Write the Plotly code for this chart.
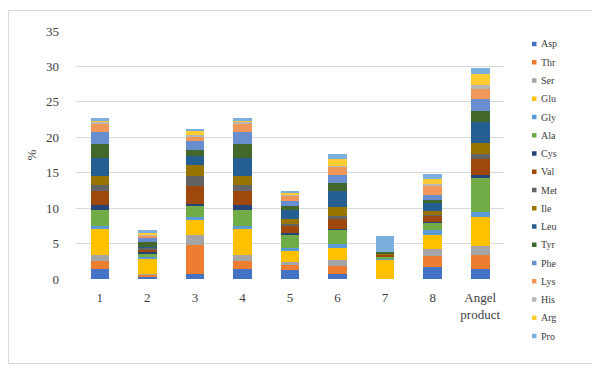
import plotly.graph_objects as go

categories = ["1", "2", "3", "4", "5", "6", "7", "8", "Angel<br>product"]

amino_acids = ["Asp", "Thr", "Ser", "Glu", "Gly", "Ala", "Cys", "Val", "Met",
               "Ile", "Leu", "Tyr", "Phe", "Lys", "His", "Arg", "Pro"]

asp = [1.37, 0.24, 0.70, 1.37, 1.27, 0.70, 0.00, 1.69, 1.46]
thr = [1.13, 0.33, 4.09, 1.13, 0.66, 1.13, 0.00, 1.55, 1.88]
ser = [0.89, 0.19, 1.41, 0.89, 0.52, 0.85, 0.00, 0.99, 1.27]
glu = [3.67, 2.10, 2.12, 3.67, 1.55, 1.74, 2.78, 1.98, 4.14]
gly = [0.47, 0.19, 0.38, 0.47, 0.38, 0.52, 0.10, 0.66, 0.75]
ala = [2.21, 0.60, 1.69, 2.21, 1.93, 1.98, 0.30, 1.08, 4.89]
cys = [0.75, 0.19, 0.19, 0.75, 0.14, 0.14, 0.00, 0.14, 0.28]
val = [1.98, 0.38, 2.59, 1.98, 1.13, 1.41, 0.25, 0.85, 2.31]
met = [0.80, 0.19, 1.36, 0.80, 0.14, 0.42, 0.05, 0.10, 0.61]
ile = [1.27, 0.05, 1.50, 1.27, 0.70, 1.27, 0.10, 0.61, 1.60]
leu = [2.59, 0.10, 1.36, 2.59, 1.36, 2.21, 0.05, 1.03, 2.96]
tyr = [1.88, 0.60, 0.75, 1.88, 0.56, 1.13, 0.15, 0.52, 1.55]
phe = [1.69, 0.60, 1.36, 1.69, 0.61, 1.18, 0.00, 0.61, 1.74]
lys = [1.27, 0.42, 0.66, 1.27, 0.85, 1.13, 0.00, 1.27, 1.36]
his = [0.19, 0.14, 0.19, 0.19, 0.14, 0.14, 0.00, 0.33, 0.52]
arg = [0.19, 0.19, 0.47, 0.19, 0.19, 0.94, 0.00, 0.70, 1.60]
pro = [0.33, 0.47, 0.38, 0.33, 0.33, 0.70, 2.35, 0.70, 0.80]

series = [asp, thr, ser, glu, gly, ala, cys, val, met,
          ile, leu, tyr, phe, lys, his, arg, pro]

colors = ["#4472C4", "#ED7D31", "#A5A5A5", "#FFC000", "#5B9BD5", "#70AD47",
          "#264478", "#9E480E", "#636363", "#997300", "#255E91", "#43682B",
          "#698ED0", "#F1975A", "#B7B7B7", "#FFCD33", "#7CAFDD"]

y_ticks = [0, 5, 10, 15, 20, 25, 30, 35]

FONT = "Liberation Serif, Times New Roman, serif"
TXT = "#404040"

fig = go.Figure()
for name, vals, col in zip(amino_acids, series, colors):
    fig.add_trace(go.Bar(x=categories, y=vals, name=name,
                         marker=dict(color=col, line=dict(width=0))))

# The page body adds an 8px margin, so the figure is laid out 8px up/left.
OFF = 8
FW, FH = 600 - OFF, 368 - OFF
# plot area in page pixels: x 76..504, y 31..279
L, R, T, B = 76 - OFF, 504 - OFF, 31 - OFF, 279 - OFF
W, H = R - L, B - T

def px_x(p):
    return (p - OFF - L) / W

def px_y(p):
    return (B - (p - OFF)) / H

# legend drawn as layout items (one square + label per series)
shapes = [dict(type="rect", xref="paper", yref="paper",
               x0=px_x(OFF + 0.5), x1=px_x(597.5), y0=px_y(363.5), y1=px_y(10.5),
               line=dict(color="#d9d9d9", width=1), layer="below")]
annotations = []
LEG_Y0, LEG_DY = 44, 18.25
for i, (name, col) in enumerate(zip(amino_acids, colors)):
    yc = LEG_Y0 + LEG_DY * i
    shapes.append(dict(type="rect", xref="paper", yref="paper",
                       x0=px_x(532), x1=px_x(536.5),
                       y0=px_y(yc + 2.25), y1=px_y(yc - 2.25),
                       fillcolor=col, line=dict(width=0)))
    annotations.append(dict(xref="paper", yref="paper", x=px_x(538.5), y=px_y(yc),
                            xanchor="left", yanchor="middle", showarrow=False,
                            text=name, font=dict(family=FONT, size=10, color=TXT)))

fig.update_layout(
    width=FW, height=FH,
    margin=dict(l=L, r=FW - R, t=T, b=FH - B, autoexpand=False),
    barmode="stack", bargap=0.61,
    plot_bgcolor="white", paper_bgcolor="white",
    font=dict(family=FONT, color=TXT, size=13),
    showlegend=False,
    xaxis=dict(showgrid=False, zeroline=False, showline=False,
               tickfont=dict(family=FONT, size=13, color=TXT),
               ticklabelstandoff=9, fixedrange=True),
    yaxis=dict(range=[0, 35], tickvals=y_ticks, showgrid=True,
               gridcolor="#d9d9d9", gridwidth=1, zeroline=False, showline=False,
               tickfont=dict(family=FONT, size=13, color=TXT),
               ticklabelstandoff=16,
               title=dict(text="%", font=dict(family=FONT, size=13, color=TXT),
                          standoff=6)),
    shapes=shapes,
    annotations=annotations,
)

fig.write_html("out.html")
